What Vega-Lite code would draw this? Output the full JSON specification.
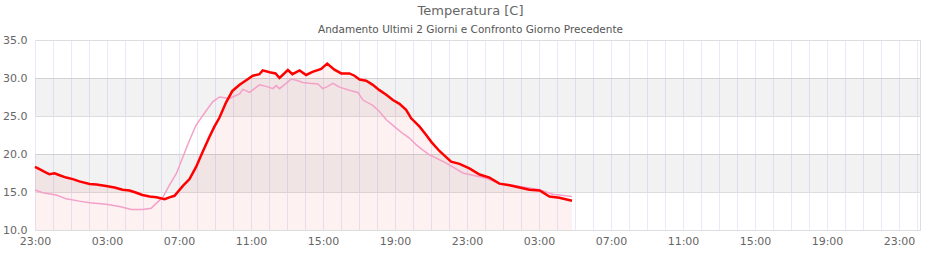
{
  "$schema": "https://vega.github.io/schema/vega-lite/v6.json",
  "autosize": {"type": "none"},
  "width": 885,
  "height": 190,
  "padding": {"left": 35, "top": 40, "right": 20, "bottom": 30},
  "background": "white",
  "config": {
    "font": "DejaVu Sans",
    "view": {"stroke": "#dddddd", "strokeWidth": 1}
  },
  "title": {
    "text": "Temperatura [C]",
    "subtitle": "Andamento Ultimi 2 Giorni e Confronto Giorno Precedente",
    "fontSize": 13,
    "fontWeight": "normal",
    "color": "#666666",
    "subtitleFontSize": 10.5,
    "subtitleColor": "#555555",
    "anchor": "middle",
    "dx": -7,
    "offset": -1,
    "subtitlePadding": 7
  },
  "data": {
    "values": [
      {"t": "2024-06-01T23:00Z", "serie": "oggi", "temp": 18.3},
      {"t": "2024-06-01T23:15Z", "serie": "oggi", "temp": 18.0},
      {"t": "2024-06-01T23:37Z", "serie": "oggi", "temp": 17.55},
      {"t": "2024-06-01T23:48Z", "serie": "oggi", "temp": 17.35},
      {"t": "2024-06-02T00:05Z", "serie": "oggi", "temp": 17.45},
      {"t": "2024-06-02T00:22Z", "serie": "oggi", "temp": 17.2},
      {"t": "2024-06-02T00:44Z", "serie": "oggi", "temp": 16.9},
      {"t": "2024-06-02T01:06Z", "serie": "oggi", "temp": 16.7},
      {"t": "2024-06-02T01:28Z", "serie": "oggi", "temp": 16.4},
      {"t": "2024-06-02T02:02Z", "serie": "oggi", "temp": 16.05},
      {"t": "2024-06-02T02:25Z", "serie": "oggi", "temp": 16.0},
      {"t": "2024-06-02T02:57Z", "serie": "oggi", "temp": 15.8},
      {"t": "2024-06-02T03:25Z", "serie": "oggi", "temp": 15.6},
      {"t": "2024-06-02T03:52Z", "serie": "oggi", "temp": 15.3},
      {"t": "2024-06-02T04:15Z", "serie": "oggi", "temp": 15.2},
      {"t": "2024-06-02T04:38Z", "serie": "oggi", "temp": 14.9},
      {"t": "2024-06-02T04:58Z", "serie": "oggi", "temp": 14.6},
      {"t": "2024-06-02T05:22Z", "serie": "oggi", "temp": 14.4},
      {"t": "2024-06-02T05:45Z", "serie": "oggi", "temp": 14.3},
      {"t": "2024-06-02T06:12Z", "serie": "oggi", "temp": 14.05},
      {"t": "2024-06-02T06:28Z", "serie": "oggi", "temp": 14.3},
      {"t": "2024-06-02T06:45Z", "serie": "oggi", "temp": 14.5},
      {"t": "2024-06-02T07:13Z", "serie": "oggi", "temp": 15.8},
      {"t": "2024-06-02T07:35Z", "serie": "oggi", "temp": 16.7},
      {"t": "2024-06-02T07:57Z", "serie": "oggi", "temp": 18.3},
      {"t": "2024-06-02T08:19Z", "serie": "oggi", "temp": 20.3},
      {"t": "2024-06-02T08:42Z", "serie": "oggi", "temp": 22.3},
      {"t": "2024-06-02T08:58Z", "serie": "oggi", "temp": 23.6},
      {"t": "2024-06-02T09:15Z", "serie": "oggi", "temp": 24.8},
      {"t": "2024-06-02T09:37Z", "serie": "oggi", "temp": 26.8},
      {"t": "2024-06-02T09:58Z", "serie": "oggi", "temp": 28.3},
      {"t": "2024-06-02T10:22Z", "serie": "oggi", "temp": 29.1},
      {"t": "2024-06-02T10:44Z", "serie": "oggi", "temp": 29.7},
      {"t": "2024-06-02T11:06Z", "serie": "oggi", "temp": 30.3},
      {"t": "2024-06-02T11:28Z", "serie": "oggi", "temp": 30.5},
      {"t": "2024-06-02T11:39Z", "serie": "oggi", "temp": 31.0},
      {"t": "2024-06-02T12:02Z", "serie": "oggi", "temp": 30.75},
      {"t": "2024-06-02T12:22Z", "serie": "oggi", "temp": 30.6},
      {"t": "2024-06-02T12:35Z", "serie": "oggi", "temp": 30.0},
      {"t": "2024-06-02T13:03Z", "serie": "oggi", "temp": 31.05},
      {"t": "2024-06-02T13:18Z", "serie": "oggi", "temp": 30.5},
      {"t": "2024-06-02T13:42Z", "serie": "oggi", "temp": 31.0},
      {"t": "2024-06-02T14:04Z", "serie": "oggi", "temp": 30.4},
      {"t": "2024-06-02T14:25Z", "serie": "oggi", "temp": 30.8},
      {"t": "2024-06-02T14:54Z", "serie": "oggi", "temp": 31.2},
      {"t": "2024-06-02T15:14Z", "serie": "oggi", "temp": 31.9},
      {"t": "2024-06-02T15:38Z", "serie": "oggi", "temp": 31.1},
      {"t": "2024-06-02T16:01Z", "serie": "oggi", "temp": 30.6},
      {"t": "2024-06-02T16:28Z", "serie": "oggi", "temp": 30.6},
      {"t": "2024-06-02T16:45Z", "serie": "oggi", "temp": 30.3},
      {"t": "2024-06-02T17:02Z", "serie": "oggi", "temp": 29.8},
      {"t": "2024-06-02T17:24Z", "serie": "oggi", "temp": 29.65},
      {"t": "2024-06-02T17:46Z", "serie": "oggi", "temp": 29.1},
      {"t": "2024-06-02T18:08Z", "serie": "oggi", "temp": 28.4},
      {"t": "2024-06-02T18:31Z", "serie": "oggi", "temp": 27.8},
      {"t": "2024-06-02T18:53Z", "serie": "oggi", "temp": 27.1},
      {"t": "2024-06-02T19:15Z", "serie": "oggi", "temp": 26.6},
      {"t": "2024-06-02T19:37Z", "serie": "oggi", "temp": 25.8},
      {"t": "2024-06-02T19:54Z", "serie": "oggi", "temp": 24.7},
      {"t": "2024-06-02T20:22Z", "serie": "oggi", "temp": 23.6},
      {"t": "2024-06-02T20:44Z", "serie": "oggi", "temp": 22.5},
      {"t": "2024-06-02T21:01Z", "serie": "oggi", "temp": 21.6},
      {"t": "2024-06-02T21:28Z", "serie": "oggi", "temp": 20.4},
      {"t": "2024-06-02T22:07Z", "serie": "oggi", "temp": 19.0},
      {"t": "2024-06-02T22:35Z", "serie": "oggi", "temp": 18.7},
      {"t": "2024-06-02T23:08Z", "serie": "oggi", "temp": 18.1},
      {"t": "2024-06-02T23:42Z", "serie": "oggi", "temp": 17.3},
      {"t": "2024-06-03T00:15Z", "serie": "oggi", "temp": 16.9},
      {"t": "2024-06-03T00:48Z", "serie": "oggi", "temp": 16.1},
      {"t": "2024-06-03T01:22Z", "serie": "oggi", "temp": 15.9},
      {"t": "2024-06-03T01:55Z", "serie": "oggi", "temp": 15.6},
      {"t": "2024-06-03T02:28Z", "serie": "oggi", "temp": 15.3},
      {"t": "2024-06-03T03:02Z", "serie": "oggi", "temp": 15.2},
      {"t": "2024-06-03T03:35Z", "serie": "oggi", "temp": 14.4},
      {"t": "2024-06-03T04:08Z", "serie": "oggi", "temp": 14.25},
      {"t": "2024-06-03T04:50Z", "serie": "oggi", "temp": 13.86},
      {"t": "2024-06-01T23:00Z", "serie": "ieri", "temp": 15.26},
      {"t": "2024-06-01T23:26Z", "serie": "ieri", "temp": 14.9},
      {"t": "2024-06-02T00:11Z", "serie": "ieri", "temp": 14.6},
      {"t": "2024-06-02T00:44Z", "serie": "ieri", "temp": 14.1},
      {"t": "2024-06-02T01:28Z", "serie": "ieri", "temp": 13.8},
      {"t": "2024-06-02T02:02Z", "serie": "ieri", "temp": 13.6},
      {"t": "2024-06-02T02:57Z", "serie": "ieri", "temp": 13.4},
      {"t": "2024-06-02T03:42Z", "serie": "ieri", "temp": 13.1},
      {"t": "2024-06-02T04:21Z", "serie": "ieri", "temp": 12.7},
      {"t": "2024-06-02T04:59Z", "serie": "ieri", "temp": 12.7},
      {"t": "2024-06-02T05:27Z", "serie": "ieri", "temp": 12.85},
      {"t": "2024-06-02T05:44Z", "serie": "ieri", "temp": 13.5},
      {"t": "2024-06-02T06:06Z", "serie": "ieri", "temp": 14.3},
      {"t": "2024-06-02T06:28Z", "serie": "ieri", "temp": 15.9},
      {"t": "2024-06-02T06:51Z", "serie": "ieri", "temp": 17.4},
      {"t": "2024-06-02T07:13Z", "serie": "ieri", "temp": 19.6},
      {"t": "2024-06-02T07:35Z", "serie": "ieri", "temp": 21.8},
      {"t": "2024-06-02T07:57Z", "serie": "ieri", "temp": 23.8},
      {"t": "2024-06-02T08:25Z", "serie": "ieri", "temp": 25.4},
      {"t": "2024-06-02T08:53Z", "serie": "ieri", "temp": 26.9},
      {"t": "2024-06-02T09:15Z", "serie": "ieri", "temp": 27.5},
      {"t": "2024-06-02T09:48Z", "serie": "ieri", "temp": 27.3},
      {"t": "2024-06-02T10:22Z", "serie": "ieri", "temp": 27.9},
      {"t": "2024-06-02T10:33Z", "serie": "ieri", "temp": 28.5},
      {"t": "2024-06-02T10:55Z", "serie": "ieri", "temp": 28.1},
      {"t": "2024-06-02T11:28Z", "serie": "ieri", "temp": 29.1},
      {"t": "2024-06-02T11:51Z", "serie": "ieri", "temp": 28.9},
      {"t": "2024-06-02T12:13Z", "serie": "ieri", "temp": 28.6},
      {"t": "2024-06-02T12:24Z", "serie": "ieri", "temp": 29.0},
      {"t": "2024-06-02T12:35Z", "serie": "ieri", "temp": 28.6},
      {"t": "2024-06-02T12:57Z", "serie": "ieri", "temp": 29.3},
      {"t": "2024-06-02T13:14Z", "serie": "ieri", "temp": 29.85},
      {"t": "2024-06-02T13:31Z", "serie": "ieri", "temp": 29.7},
      {"t": "2024-06-02T13:53Z", "serie": "ieri", "temp": 29.4},
      {"t": "2024-06-02T14:15Z", "serie": "ieri", "temp": 29.3},
      {"t": "2024-06-02T14:43Z", "serie": "ieri", "temp": 29.2},
      {"t": "2024-06-02T14:59Z", "serie": "ieri", "temp": 28.6},
      {"t": "2024-06-02T15:16Z", "serie": "ieri", "temp": 28.9},
      {"t": "2024-06-02T15:33Z", "serie": "ieri", "temp": 29.3},
      {"t": "2024-06-02T15:55Z", "serie": "ieri", "temp": 28.8},
      {"t": "2024-06-02T16:28Z", "serie": "ieri", "temp": 28.4},
      {"t": "2024-06-02T16:56Z", "serie": "ieri", "temp": 28.1},
      {"t": "2024-06-02T17:13Z", "serie": "ieri", "temp": 27.1},
      {"t": "2024-06-02T17:46Z", "serie": "ieri", "temp": 26.4},
      {"t": "2024-06-02T18:08Z", "serie": "ieri", "temp": 25.6},
      {"t": "2024-06-02T18:31Z", "serie": "ieri", "temp": 24.5},
      {"t": "2024-06-02T19:04Z", "serie": "ieri", "temp": 23.4},
      {"t": "2024-06-02T19:26Z", "serie": "ieri", "temp": 22.7},
      {"t": "2024-06-02T19:48Z", "serie": "ieri", "temp": 22.1},
      {"t": "2024-06-02T20:11Z", "serie": "ieri", "temp": 21.2},
      {"t": "2024-06-02T20:33Z", "serie": "ieri", "temp": 20.5},
      {"t": "2024-06-02T20:55Z", "serie": "ieri", "temp": 19.9},
      {"t": "2024-06-02T21:51Z", "serie": "ieri", "temp": 18.8},
      {"t": "2024-06-02T22:46Z", "serie": "ieri", "temp": 17.5},
      {"t": "2024-06-02T23:19Z", "serie": "ieri", "temp": 17.2},
      {"t": "2024-06-03T00:04Z", "serie": "ieri", "temp": 16.8},
      {"t": "2024-06-03T00:48Z", "serie": "ieri", "temp": 16.1},
      {"t": "2024-06-03T01:33Z", "serie": "ieri", "temp": 15.9},
      {"t": "2024-06-03T02:17Z", "serie": "ieri", "temp": 15.6},
      {"t": "2024-06-03T03:02Z", "serie": "ieri", "temp": 15.3},
      {"t": "2024-06-03T03:46Z", "serie": "ieri", "temp": 14.7},
      {"t": "2024-06-03T04:50Z", "serie": "ieri", "temp": 14.4}
    ]
  },
  "encoding": {
    "x": {
      "field": "t",
      "type": "temporal",
      "title": null,
      "scale": {"type": "utc", "domain": [1717282800000, 1717459800000]},
      "axis": {
        "tickCount": 49,
        "format": "%H:%M",
        "labelOverlap": "parity",
        "labelSeparation": 12,
        "labelFlush": false,
        "labelFontSize": 11,
        "labelColor": "#666666",
        "labelPadding": 5,
        "ticks": false,
        "domain": false,
        "grid": true,
        "gridColor": "#ebe8fa"
      }
    },
    "y": {
      "field": "temp",
      "type": "quantitative",
      "title": null,
      "scale": {"domain": [10, 35], "zero": false, "nice": false},
      "axis": {
        "values": [10, 15, 20, 25, 30, 35],
        "tickCount": 6,
        "format": ".1f",
        "labelFontSize": 11,
        "labelColor": "#666666",
        "labelPadding": 8,
        "labelOverlap": false,
        "ticks": false,
        "domain": false,
        "grid": true,
        "gridColor": "#dddddd"
      }
    }
  },
  "layer": [
    {
      "data": {"values": [{"lo": 15, "hi": 20}, {"lo": 25, "hi": 30}]},
      "mark": {"type": "rect", "color": "#000000", "opacity": 0.05},
      "encoding": {
        "x": {"value": 0},
        "x2": {"value": "width"},
        "y": {
          "field": "lo",
          "type": "quantitative",
          "title": null,
          "scale": {"domain": [10, 35], "zero": false, "nice": false},
          "axis": {
            "values": [10, 15, 20, 25, 30, 35],
            "tickCount": 6,
            "format": ".1f",
            "labelFontSize": 11,
            "labelColor": "#666666",
            "labelPadding": 8,
            "labelOverlap": false,
            "ticks": false,
            "domain": false,
            "grid": true,
            "gridColor": "#dddddd"
          }
        },
        "y2": {"field": "hi"}
      }
    },
    {
      "transform": [{"filter": "datum.serie == 'oggi'"}],
      "mark": {"type": "area", "color": "#dc0a28", "opacity": 0.06, "clip": true}
    },
    {
      "transform": [{"filter": "datum.serie == 'ieri'"}],
      "mark": {"type": "line", "color": "#f4a0c8", "strokeWidth": 1.5}
    },
    {
      "transform": [{"filter": "datum.serie == 'oggi'"}],
      "mark": {"type": "line", "color": "#ff0000", "strokeWidth": 2.5}
    }
  ]
}
